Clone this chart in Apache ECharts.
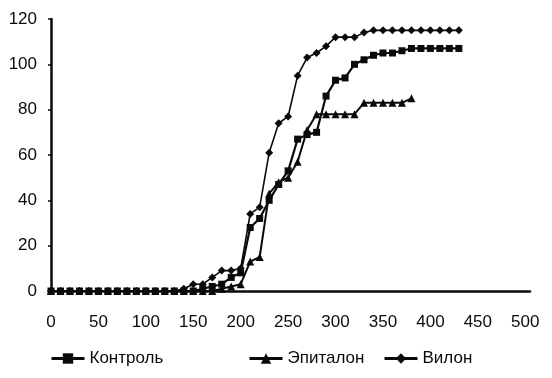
<!DOCTYPE html>
<html>
<head>
<meta charset="utf-8">
<script src="https://cdn.jsdelivr.net/npm/echarts@6/dist/echarts.min.js"></script>
<style>
html,body{margin:0;padding:0;background:#fff;}
#chart{width:552px;height:378px;}
</style>
</head>
<body>
<div id="chart"></div>
<script>
var xTicks = [0, 50, 100, 150, 200, 250, 300, 350, 400, 450, 500];
var yTicks = [0, 20, 40, 60, 80, 100, 120];
var days = [0, 10, 20, 30, 40, 50, 60, 70, 80, 90, 100, 110, 120, 130, 140, 150, 160, 170, 180, 190,
	200, 210, 220, 230, 240, 250, 260, 270, 280, 290, 300, 310, 320, 330, 340, 350, 360, 370, 380, 390,
	400, 410, 420, 430];
var kontrol = [0, 0, 0, 0, 0, 0, 0, 0, 0, 0, 0, 0, 0, 0, 0, 0, 1, 2, 3, 6,
	8, 28, 32, 40, 47, 53, 67, 69, 70, 86, 93, 94, 100, 102, 104, 105, 105, 106, 107, 107,
	107, 107, 107, 107];
var epitalon = [0, 0, 0, 0, 0, 0, 0, 0, 0, 0, 0, 0, 0, 0, 0, 0, 0, 0, 1, 2,
	3, 13, 15, 43, 48, 50, 57, 71, 78, 78, 78, 78, 78, 83, 83, 83, 83, 83, 85];
var vilon = [0, 0, 0, 0, 0, 0, 0, 0, 0, 0, 0, 0, 0, 0, 1, 3, 3, 6, 9, 9,
	10, 34, 37, 61, 74, 77, 95, 103, 105, 108, 112, 112, 112, 114, 115, 115, 115, 115, 115, 115,
	115, 115, 115, 115];
var names = ["Контроль", "Эпиталон", "Вилон"];

function pairs(vals) {
	var out = [];
	for (var i = 0; i < vals.length; i++) {
		out.push([days[i], vals[i]]);
	}
	return out;
}

var font = "'Liberation Sans', Arial, sans-serif";
var ink = "#0a0a0a";

var chart = echarts.init(document.getElementById("chart"));
var option = {
	animation: false,
	backgroundColor: "#fff",
	grid: {left: 51, right: 22, top: 19, bottom: 87},
	legend: [
		{data: [names[0]], left: 45, top: 345},
		{data: [names[1]], left: 243, top: 345},
		{data: [names[2]], left: 378, top: 345}
	].map(function (l) {
		l.itemWidth = 33;
		l.itemHeight = 13;
		l.itemGap = 6;
		l.lineStyle = {width: 3};
		l.textStyle = {fontFamily: font, fontSize: 17, color: ink};
		return l;
	}),
	xAxis: {
		type: "value",
		min: 0,
		max: 505,
		interval: 50,
		splitLine: {show: false},
		axisTick: {show: false},
		axisLine: {lineStyle: {color: ink, width: 2.5}},
		axisLabel: {
			margin: 23, fontFamily: font, fontSize: 17, color: ink, showMaxLabel: false,
			formatter: function (v) { return xTicks.indexOf(v) >= 0 ? String(v) : ""; }
		}
	},
	yAxis: {
		type: "value",
		min: 0,
		max: 120,
		interval: 20,
		splitLine: {show: false},
		axisLine: {show: true, lineStyle: {color: ink, width: 2.5}},
		axisTick: {show: true, length: 3, lineStyle: {color: ink, width: 1.5}},
		axisLabel: {
			margin: 14, fontFamily: font, fontSize: 17, color: ink,
			formatter: function (v) { return yTicks.indexOf(v) >= 0 ? String(v) : ""; }
		}
	},
	series: [
		{
			name: names[0], type: "line", data: pairs(kontrol),
			symbol: "rect", symbolSize: 7, showAllSymbol: true,
			lineStyle: {color: ink, width: 2.2}, itemStyle: {color: ink}
		},
		{
			name: names[1], type: "line", data: pairs(epitalon),
			symbol: "triangle", symbolSize: 8, showAllSymbol: true,
			lineStyle: {color: ink, width: 2}, itemStyle: {color: ink}
		},
		{
			name: names[2], type: "line", data: pairs(vilon),
			symbol: "diamond", symbolSize: 8, showAllSymbol: true,
			lineStyle: {color: ink, width: 1.6}, itemStyle: {color: ink}
		}
	]
};
chart.setOption(option);
</script>
</body>
</html>
